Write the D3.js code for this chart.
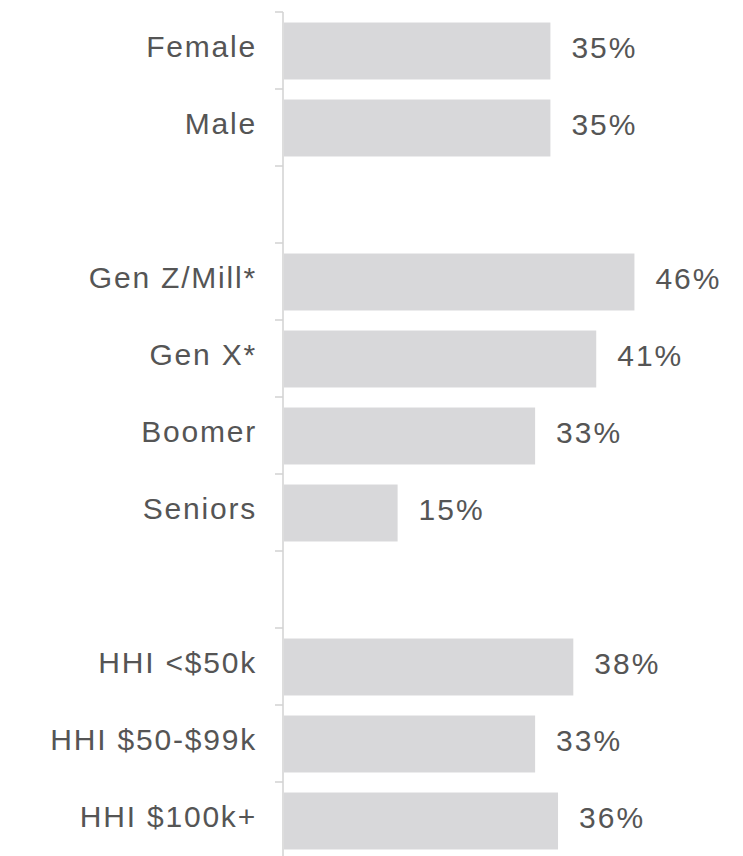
<!DOCTYPE html>
<html>
<head>
<meta charset="utf-8">
<script src="https://cdn.jsdelivr.net/npm/d3@7/dist/d3.min.js"></script>
<style>
  html, body { margin: 0; padding: 0; background: #fff; }
  svg { display: block; }
</style>
</head>
<body>
<svg id="chart" width="743" height="856"></svg>
<script>
// Rows in drawing order; empty labels are spacer rows between groups.
const categories = ["Female", "Male", "", "Gen Z/Mill*", "Gen X*", "Boomer", "Seniors", "", "HHI <$50k", "HHI $50-$99k", "HHI $100k+"];
const values     = [35, 35, null, 46, 41, 33, 15, null, 38, 33, 36];
const valueLabels = ["35%", "35%", "", "46%", "41%", "33%", "15%", "", "38%", "33%", "36%"];

const rows = categories.map((c, i) => ({ key: "r" + i, label: c, value: values[i], text: valueLabels[i] }));

const svg = d3.select("#chart");
const axisX = 283;

const x = d3.scaleLinear().domain([0, 50]).range([axisX, axisX + 382]);
const y = d3.scaleBand().domain(rows.map(d => d.key)).range([12, 859]).padding(0);

const barH = y.bandwidth() * 0.74;
const barOff = (y.bandwidth() - barH) / 2 + 0.5;

// Vertical axis with ticks at every row boundary
const boundaries = rows.map(d => y(d.key)).concat([y.range()[1]]);
svg.append("line")
  .attr("x1", axisX).attr("x2", axisX)
  .attr("y1", y.range()[0]).attr("y2", 856)
  .attr("stroke", "#d2d2d2").attr("stroke-width", 1.5);
svg.selectAll("line.tick").data(boundaries).join("line")
  .attr("class", "tick")
  .attr("x1", axisX - 8).attr("x2", axisX)
  .attr("y1", d => d).attr("y2", d => d)
  .attr("stroke", "#d2d2d2").attr("stroke-width", 1.5);

const data = rows.filter(d => d.value != null);

svg.selectAll("rect.bar").data(data).join("rect")
  .attr("class", "bar")
  .attr("x", x(0) + 1)
  .attr("y", d => y(d.key) + barOff)
  .attr("width", d => x(d.value) - x(0) - 1)
  .attr("height", barH)
  .attr("fill", "#d8d8da");

const font = "'Liberation Sans', Arial, Helvetica, sans-serif";

svg.selectAll("text.cat").data(data).join("text")
  .attr("class", "cat")
  .attr("x", axisX - 26)
  .attr("y", d => y(d.key) + y.bandwidth() / 2 - 4)
  .attr("dy", "0.35em")
  .attr("text-anchor", "end")
  .attr("font-family", font)
  .attr("font-size", 30)
  .attr("letter-spacing", "1.8")
  .attr("fill", "#555555")
  .text(d => d.label);

svg.selectAll("text.val").data(data).join("text")
  .attr("class", "val")
  .attr("x", d => x(d.value) + 21)
  .attr("y", d => y(d.key) + y.bandwidth() / 2 - 3)
  .attr("dy", "0.35em")
  .attr("font-family", font)
  .attr("font-size", 30)
  .attr("letter-spacing", "2")
  .attr("fill", "#555555")
  .text(d => d.text);
</script>
</body>
</html>
